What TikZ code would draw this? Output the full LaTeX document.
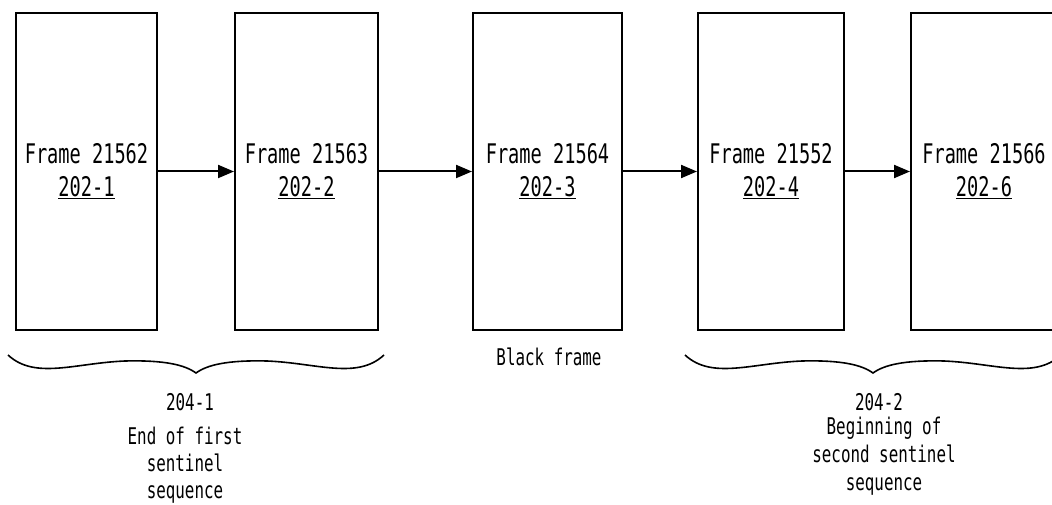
\documentclass[tikz,border=0pt]{standalone}
\usepackage{fontspec}
\usepackage{tikz}
\usetikzlibrary{arrows.meta}
\newfontfamily\gothic[FakeStretch=0.69]{DejaVu Sans Mono}

\begin{document}
\begin{tikzpicture}[x=1pt, y=-1pt,
  framebox/.style = {draw, line width=2pt, minimum height=317pt, inner sep=0pt,
                     align=center, font=\gothic\fontsize{27}{33}\selectfont},
  flow/.style = {line width=2pt, -{Triangle[length=16pt,width=13pt]}},
  note/.style = {align=center, font=\gothic\fontsize{23}{28}\selectfont}]
\useasboundingbox (0,0) rectangle (1052,505);

% frames
\foreach \n/\x/\w/\fr/\rf in {1/86.5/141/21562/202-1, 2/306.5/143/21563/202-2,
    3/547.5/149/21564/202-3, 4/771/146/21552/202-4, 5/984/146/21566/202-6}{
  \node[framebox, minimum width=\w pt] (f\n) at (\x,171.5) {Frame \fr\\\underline{\rf}};
}

% arrows between frames
\foreach \a/\b in {1/2, 2/3, 3/4, 4/5}{
  \draw[flow] (f\a) -- (f\b);
}

% braces under the sentinel sequences
\foreach \s in {8, 685}{
  \draw[line width=1.6pt] (\s,355) .. controls +(27,25) and +(-50,2) .. ++(117,6)
    .. controls +(40,-1) and +(-11,-8) .. ++(71,12)
    .. controls +(11,-8) and +(-40,-1) .. ++(71,-12)
    .. controls +(50,2) and +(-27,25) .. ++(117,-6);
}

% labels
\node[note] (black) at (549,357) {Black frame};
\node[note] (seq1) at (190,402) {204-1};
\node[note, font=\gothic\fontsize{23}{27}\selectfont] (seq1txt) at (185,465) {End of first\\sentinel\\sequence};
\node[note] (seq2) at (879,402) {204-2};
\node[note] (seq2txt) at (884,456) {Beginning of\\second sentinel\\sequence};

\end{tikzpicture}
\end{document}
